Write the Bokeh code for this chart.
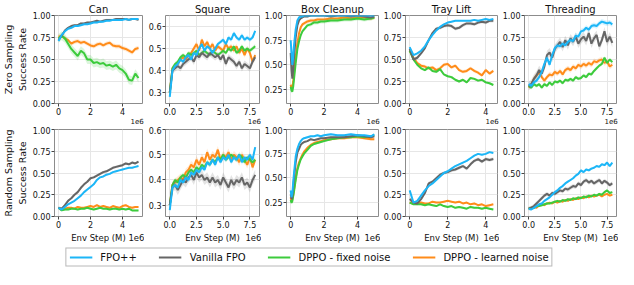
from bokeh.plotting import figure
from bokeh.layouts import column, row
from bokeh.models import (FixedTicker, PrintfTickFormatter, Legend, LegendItem, Range1d,
                          LinearAxis, CustomJSTickFormatter)
from bokeh.embed import file_html
from bokeh.resources import INLINE
import numpy as np

# ---------------- data (x in units of 1e6 env steps) ----------------
X5 = [0, 0.2, 0.4, 0.6, 0.8, 1.0, 1.2, 1.4, 1.6, 1.8, 2.0, 2.2, 2.4, 2.6, 2.8, 3.0,
      3.2, 3.4, 3.6, 3.8, 4.0, 4.2, 4.4, 4.6, 4.8, 5.0]
X8 = [0, 0.25, 0.5, 0.75, 1.0, 1.25, 1.5, 1.75, 2.0, 2.25, 2.5, 2.75, 3.0, 3.25, 3.5, 3.75,
      4.0, 4.25, 4.5, 4.75, 5.0, 5.25, 5.5, 5.75, 6.0, 6.25, 6.5, 6.75, 7.0, 7.25, 7.5, 7.75, 8.0]
XBOX = [0, 0.05, 0.1, 0.15, 0.2, 0.3, 0.4, 0.5, 0.6, 0.7, 0.8, 1.0, 1.2, 1.4, 1.6, 1.8, 2.0,
        2.4, 2.8, 3.2, 3.6, 4.0, 4.4, 4.8, 5.0]
XTRAY = [0, 0.2, 0.4, 0.6, 0.8, 1.0, 1.2, 1.4, 1.6, 1.8, 2.0, 2.2, 2.4, 2.6, 2.8, 3.0, 3.2,
         3.4, 3.6, 3.8, 4.0, 4.2, 4.4]

TASKS = ["Can", "Square", "Box Cleanup", "Tray Lift", "Threading"]
SERIES = ["FPO++", "Vanilla FPO", "DPPO - fixed noise", "DPPO - learned noise"]
ROW_LABELS = ["Zero Sampling\nSuccess Rate", "Random Sampling\nSuccess Rate"]
X_LABEL = "Env Step (M)"
X_OFFSET_TEXT = "1e6"

# Zero sampling row
Z_CAN_FPOPP = [0.71, 0.78, 0.82, 0.85, 0.86, 0.88, 0.88, 0.89, 0.90, 0.90, 0.91, 0.92, 0.92, 0.93, 0.93, 0.94, 0.94, 0.95, 0.95, 0.95, 0.95, 0.96, 0.95, 0.96, 0.96, 0.96]
Z_CAN_VAN = [0.72, 0.77, 0.83, 0.86, 0.88, 0.89, 0.89, 0.91, 0.91, 0.92, 0.92, 0.93, 0.94, 0.93, 0.94, 0.95, 0.95, 0.95, 0.96, 0.96, 0.96, 0.96, 0.95, 0.96, 0.96, 0.95]
Z_CAN_FIX = [0.74, 0.77, 0.74, 0.68, 0.62, 0.58, 0.54, 0.60, 0.57, 0.50, 0.50, 0.46, 0.47, 0.45, 0.46, 0.43, 0.44, 0.42, 0.44, 0.40, 0.38, 0.34, 0.27, 0.26, 0.34, 0.29]
Z_CAN_LRN = [0.76, 0.77, 0.74, 0.72, 0.68, 0.70, 0.71, 0.69, 0.70, 0.68, 0.66, 0.65, 0.67, 0.68, 0.66, 0.68, 0.69, 0.66, 0.65, 0.65, 0.63, 0.62, 0.60, 0.58, 0.62, 0.63]

Z_SQ_FPOPP = [0.28, 0.40, 0.42, 0.43, 0.45, 0.44, 0.46, 0.47, 0.45, 0.48, 0.47, 0.50, 0.52, 0.49, 0.51, 0.50, 0.48, 0.50, 0.52, 0.53, 0.54, 0.52, 0.55, 0.54, 0.57, 0.55, 0.54, 0.56, 0.54, 0.55, 0.54, 0.55, 0.58]
Z_SQ_VAN = [0.30, 0.40, 0.41, 0.42, 0.41, 0.43, 0.44, 0.45, 0.46, 0.44, 0.47, 0.46, 0.48, 0.47, 0.46, 0.48, 0.47, 0.46, 0.47, 0.45, 0.47, 0.43, 0.46, 0.45, 0.44, 0.42, 0.44, 0.41, 0.43, 0.42, 0.41, 0.44, 0.46]
Z_SQ_FIX = [0.30, 0.41, 0.43, 0.44, 0.46, 0.47, 0.46, 0.48, 0.47, 0.48, 0.49, 0.47, 0.48, 0.49, 0.48, 0.47, 0.49, 0.48, 0.47, 0.48, 0.49, 0.48, 0.50, 0.49, 0.51, 0.48, 0.49, 0.51, 0.49, 0.50, 0.49, 0.50, 0.51]
Z_SQ_LRN = [0.30, 0.41, 0.42, 0.43, 0.45, 0.46, 0.45, 0.47, 0.48, 0.50, 0.52, 0.49, 0.54, 0.51, 0.53, 0.50, 0.52, 0.49, 0.51, 0.50, 0.49, 0.52, 0.50, 0.51, 0.49, 0.51, 0.48, 0.50, 0.47, 0.50, 0.48, 0.44, 0.47]

Z_BOX_FPOPP = [0.75, 0.62, 0.50, 0.58, 0.70, 0.86, 0.95, 0.98, 0.99, 0.99, 1.0, 1.0, 1.0, 1.0, 1.0, 1.0, 1.0, 1.0, 1.0, 1.0, 1.0, 1.0, 1.0, 1.0, 1.0]
Z_BOX_VAN = [0.62, 0.45, 0.36, 0.45, 0.58, 0.78, 0.90, 0.95, 0.97, 0.98, 0.99, 0.99, 1.0, 1.0, 1.0, 1.0, 1.0, 0.99, 1.0, 1.0, 0.99, 1.0, 0.99, 0.98, 0.99]
Z_BOX_FIX = [0.28, 0.24, 0.23, 0.28, 0.36, 0.52, 0.66, 0.74, 0.80, 0.84, 0.86, 0.90, 0.91, 0.93, 0.93, 0.94, 0.94, 0.95, 0.95, 0.96, 0.96, 0.97, 0.96, 0.97, 0.98]
Z_BOX_LRN = [0.30, 0.26, 0.27, 0.33, 0.42, 0.58, 0.72, 0.82, 0.88, 0.91, 0.92, 0.94, 0.95, 0.95, 0.96, 0.96, 0.96, 0.97, 0.97, 0.98, 0.97, 0.98, 0.98, 0.97, 0.98]

Z_TRAY_FPOPP = [0.64, 0.55, 0.57, 0.60, 0.65, 0.72, 0.78, 0.83, 0.87, 0.90, 0.92, 0.93, 0.94, 0.94, 0.94, 0.94, 0.94, 0.95, 0.94, 0.95, 0.96, 0.95, 0.96]
Z_TRAY_VAN = [0.62, 0.50, 0.52, 0.57, 0.63, 0.72, 0.80, 0.85, 0.86, 0.88, 0.89, 0.88, 0.85, 0.86, 0.89, 0.91, 0.91, 0.90, 0.92, 0.93, 0.92, 0.94, 0.94]
Z_TRAY_FIX = [0.60, 0.50, 0.44, 0.40, 0.38, 0.41, 0.37, 0.36, 0.39, 0.33, 0.31, 0.30, 0.27, 0.25, 0.27, 0.24, 0.29, 0.28, 0.26, 0.27, 0.24, 0.23, 0.21]
Z_TRAY_LRN = [0.60, 0.52, 0.46, 0.43, 0.42, 0.40, 0.41, 0.38, 0.40, 0.44, 0.45, 0.41, 0.43, 0.38, 0.36, 0.37, 0.40, 0.37, 0.35, 0.32, 0.38, 0.34, 0.37]

Z_THR_FPOPP = [0.22, 0.20, 0.24, 0.26, 0.30, 0.36, 0.45, 0.52, 0.44, 0.55, 0.63, 0.66, 0.65, 0.68, 0.66, 0.70, 0.72, 0.71, 0.77, 0.76, 0.82, 0.83, 0.86, 0.84, 0.88, 0.89, 0.88, 0.91, 0.93, 0.92, 0.91, 0.92, 0.90]
Z_THR_VAN = [0.20, 0.22, 0.28, 0.32, 0.38, 0.34, 0.42, 0.55, 0.58, 0.52, 0.62, 0.66, 0.70, 0.64, 0.72, 0.66, 0.74, 0.70, 0.76, 0.68, 0.73, 0.76, 0.71, 0.80, 0.68, 0.74, 0.78, 0.65, 0.72, 0.82, 0.70, 0.76, 0.69]
Z_THR_FIX = [0.20, 0.18, 0.22, 0.20, 0.22, 0.18, 0.22, 0.20, 0.24, 0.21, 0.25, 0.24, 0.26, 0.23, 0.27, 0.26, 0.28, 0.26, 0.30, 0.28, 0.29, 0.32, 0.30, 0.34, 0.33, 0.37, 0.40, 0.43, 0.45, 0.52, 0.46, 0.50, 0.47]
Z_THR_LRN = [0.18, 0.22, 0.28, 0.32, 0.35, 0.30, 0.26, 0.30, 0.33, 0.32, 0.36, 0.34, 0.37, 0.33, 0.38, 0.40, 0.38, 0.42, 0.40, 0.44, 0.42, 0.45, 0.43, 0.46, 0.44, 0.48, 0.47, 0.49, 0.50, 0.46, 0.48, 0.42, 0.44]

# Random sampling row
R_CAN_FPOPP = [0.10, 0.08, 0.11, 0.14, 0.16, 0.18, 0.21, 0.24, 0.28, 0.31, 0.34, 0.37, 0.42, 0.45, 0.46, 0.48, 0.49, 0.51, 0.52, 0.53, 0.54, 0.55, 0.56, 0.56, 0.57, 0.58]
R_CAN_VAN = [0.10, 0.09, 0.13, 0.18, 0.21, 0.25, 0.28, 0.33, 0.37, 0.40, 0.44, 0.45, 0.47, 0.49, 0.51, 0.52, 0.54, 0.56, 0.57, 0.58, 0.59, 0.61, 0.60, 0.62, 0.61, 0.63]
R_CAN_FIX = [0.10, 0.07, 0.08, 0.08, 0.09, 0.09, 0.08, 0.09, 0.09, 0.10, 0.09, 0.08, 0.09, 0.10, 0.09, 0.09, 0.08, 0.09, 0.09, 0.08, 0.09, 0.08, 0.09, 0.07, 0.07, 0.07]
R_CAN_LRN = [0.10, 0.08, 0.09, 0.10, 0.10, 0.09, 0.11, 0.10, 0.10, 0.11, 0.12, 0.11, 0.13, 0.11, 0.12, 0.11, 0.10, 0.12, 0.11, 0.10, 0.12, 0.13, 0.11, 0.10, 0.11, 0.11]

R_SQ_FPOPP = [0.28, 0.37, 0.38, 0.37, 0.40, 0.39, 0.41, 0.40, 0.43, 0.42, 0.44, 0.43, 0.45, 0.44, 0.47, 0.46, 0.48, 0.46, 0.49, 0.47, 0.49, 0.48, 0.50, 0.47, 0.49, 0.48, 0.50, 0.47, 0.49, 0.48, 0.50, 0.48, 0.53]
R_SQ_VAN = [0.30, 0.37, 0.38, 0.36, 0.38, 0.40, 0.39, 0.41, 0.42, 0.40, 0.43, 0.41, 0.42, 0.40, 0.41, 0.39, 0.41, 0.39, 0.40, 0.38, 0.41, 0.39, 0.37, 0.40, 0.38, 0.40, 0.39, 0.41, 0.38, 0.39, 0.37, 0.40, 0.42]
R_SQ_FIX = [0.30, 0.38, 0.40, 0.39, 0.41, 0.42, 0.41, 0.43, 0.44, 0.43, 0.45, 0.44, 0.46, 0.45, 0.47, 0.46, 0.48, 0.47, 0.49, 0.48, 0.50, 0.48, 0.49, 0.50, 0.49, 0.48, 0.50, 0.49, 0.47, 0.49, 0.48, 0.47, 0.48]
R_SQ_LRN = [0.30, 0.38, 0.39, 0.40, 0.41, 0.40, 0.43, 0.44, 0.46, 0.45, 0.48, 0.46, 0.49, 0.47, 0.51, 0.48, 0.50, 0.49, 0.52, 0.48, 0.50, 0.49, 0.51, 0.48, 0.50, 0.49, 0.47, 0.50, 0.48, 0.46, 0.49, 0.45, 0.48]

R_BOX_FPOPP = [0.37, 0.30, 0.34, 0.45, 0.55, 0.72, 0.80, 0.85, 0.88, 0.90, 0.91, 0.92, 0.93, 0.93, 0.94, 0.93, 0.94, 0.95, 0.94, 0.94, 0.95, 0.94, 0.94, 0.93, 0.95]
R_BOX_VAN = [0.33, 0.28, 0.30, 0.40, 0.50, 0.66, 0.76, 0.80, 0.84, 0.86, 0.87, 0.88, 0.90, 0.89, 0.90, 0.91, 0.91, 0.92, 0.92, 0.92, 0.93, 0.94, 0.93, 0.92, 0.93]
R_BOX_FIX = [0.27, 0.24, 0.26, 0.31, 0.36, 0.48, 0.58, 0.64, 0.69, 0.72, 0.75, 0.79, 0.83, 0.85, 0.86, 0.87, 0.88, 0.90, 0.91, 0.92, 0.92, 0.93, 0.92, 0.93, 0.94]
R_BOX_LRN = [0.30, 0.26, 0.28, 0.32, 0.38, 0.50, 0.60, 0.66, 0.70, 0.74, 0.77, 0.81, 0.84, 0.86, 0.87, 0.88, 0.89, 0.90, 0.91, 0.91, 0.92, 0.92, 0.91, 0.90, 0.90]

R_TRAY_FPOPP = [0.30, 0.16, 0.18, 0.24, 0.30, 0.35, 0.38, 0.42, 0.46, 0.50, 0.52, 0.55, 0.58, 0.60, 0.62, 0.64, 0.67, 0.70, 0.72, 0.71, 0.72, 0.74, 0.73]
R_TRAY_VAN = [0.20, 0.16, 0.15, 0.20, 0.27, 0.38, 0.40, 0.44, 0.48, 0.50, 0.51, 0.53, 0.54, 0.56, 0.58, 0.55, 0.60, 0.64, 0.66, 0.63, 0.66, 0.65, 0.66]
R_TRAY_FIX = [0.16, 0.14, 0.14, 0.14, 0.13, 0.14, 0.13, 0.12, 0.14, 0.12, 0.11, 0.12, 0.10, 0.11, 0.10, 0.09, 0.11, 0.10, 0.10, 0.09, 0.10, 0.09, 0.08]
R_TRAY_LRN = [0.16, 0.15, 0.15, 0.16, 0.15, 0.15, 0.17, 0.16, 0.16, 0.17, 0.18, 0.17, 0.16, 0.17, 0.15, 0.16, 0.14, 0.15, 0.13, 0.14, 0.12, 0.13, 0.14]

R_THR_FPOPP = [0.09, 0.08, 0.10, 0.12, 0.14, 0.15, 0.18, 0.20, 0.22, 0.25, 0.28, 0.30, 0.33, 0.35, 0.38, 0.40, 0.42, 0.44, 0.47, 0.49, 0.53, 0.51, 0.54, 0.53, 0.55, 0.56, 0.58, 0.57, 0.60, 0.59, 0.62, 0.58, 0.62]
R_THR_VAN = [0.09, 0.10, 0.12, 0.15, 0.18, 0.21, 0.24, 0.26, 0.24, 0.27, 0.26, 0.28, 0.30, 0.29, 0.32, 0.31, 0.33, 0.35, 0.34, 0.38, 0.36, 0.40, 0.42, 0.39, 0.41, 0.38, 0.40, 0.42, 0.38, 0.41, 0.39, 0.36, 0.38]
R_THR_FIX = [0.09, 0.10, 0.10, 0.12, 0.12, 0.13, 0.14, 0.15, 0.15, 0.16, 0.17, 0.18, 0.17, 0.19, 0.18, 0.20, 0.19, 0.21, 0.20, 0.22, 0.21, 0.23, 0.22, 0.24, 0.23, 0.25, 0.24, 0.26, 0.25, 0.28, 0.30, 0.27, 0.28]
R_THR_LRN = [0.09, 0.10, 0.11, 0.10, 0.13, 0.14, 0.13, 0.15, 0.16, 0.15, 0.17, 0.16, 0.18, 0.17, 0.19, 0.18, 0.20, 0.19, 0.21, 0.20, 0.22, 0.21, 0.23, 0.22, 0.24, 0.23, 0.24, 0.25, 0.23, 0.25, 0.26, 0.24, 0.25]

# band half-widths (FPO++, Vanilla, fixed, learned)
Z_SPREAD = [[0.012, 0.012, 0.05, 0.025], [0.01, 0.015, 0.01, 0.012], [0.01, 0.01, 0.02, 0.02],
            [0.01, 0.02, 0.015, 0.02], [0.03, 0.05, 0.02, 0.03]]
R_SPREAD = [[0.01, 0.015, 0.01, 0.01], [0.01, 0.02, 0.01, 0.015], [0.01, 0.01, 0.01, 0.015],
            [0.01, 0.02, 0.01, 0.01], [0.015, 0.025, 0.015, 0.01]]

Z_ROW = [
    (X5, [Z_CAN_FPOPP, Z_CAN_VAN, Z_CAN_FIX, Z_CAN_LRN]),
    (X8, [Z_SQ_FPOPP, Z_SQ_VAN, Z_SQ_FIX, Z_SQ_LRN]),
    (XBOX, [Z_BOX_FPOPP, Z_BOX_VAN, Z_BOX_FIX, Z_BOX_LRN]),
    (XTRAY, [Z_TRAY_FPOPP, Z_TRAY_VAN, Z_TRAY_FIX, Z_TRAY_LRN]),
    (X8, [Z_THR_FPOPP, Z_THR_VAN, Z_THR_FIX, Z_THR_LRN]),
]
R_ROW = [
    (X5, [R_CAN_FPOPP, R_CAN_VAN, R_CAN_FIX, R_CAN_LRN]),
    (X8, [R_SQ_FPOPP, R_SQ_VAN, R_SQ_FIX, R_SQ_LRN]),
    (XBOX, [R_BOX_FPOPP, R_BOX_VAN, R_BOX_FIX, R_BOX_LRN]),
    (XTRAY, [R_TRAY_FPOPP, R_TRAY_VAN, R_TRAY_FIX, R_TRAY_LRN]),
    (X8, [R_THR_FPOPP, R_THR_VAN, R_THR_FIX, R_THR_LRN]),
]

X_RANGES = [(-0.25, 5.25), (-0.4, 8.4), (-0.25, 5.25), (-0.22, 4.62), (-0.4, 8.4)]
X_TICKS = [[0, 2, 4], [0, 2.5, 5, 7.5], [0, 2, 4], [0, 2, 4], [0, 2.5, 5, 7.5]]
X_FMT = ["%d", "%.1f", "%d", "%d", "%.1f"]
Z_YR = [(0, 1), (0.25, 0.65), (0.11, 1.0), (0, 1), (0, 1)]
R_YR = [(0, 1), (0.255, 0.6), (0.10, 1.0), (0, 1), (0, 1)]
Z_YT = [[0, 0.25, 0.5, 0.75, 1.0], [0.3, 0.4, 0.5, 0.6], [0.25, 0.5, 0.75, 1.0], [0, 0.25, 0.5, 0.75, 1.0], [0, 0.25, 0.5, 0.75, 1.0]]
R_YT = [[0, 0.25, 0.5, 0.75, 1.0], [0.3, 0.4, 0.5, 0.6], [0.25, 0.5, 0.75, 1.0], [0, 0.25, 0.5, 0.75, 1.0], [0, 0.25, 0.5, 0.75, 1.0]]
Y_FMT = ["%.2f", "%.1f", "%.2f", "%.2f", "%.2f"]

COLORS = ["#1cb6f7", "#666666", "#3ccb3c", "#ff8c1a"]
FONT = "DejaVu Sans"

# layout (page px)
LEFT = [48, 21, 23, 23, 23]
FRAME_W = 94
RIGHT = [2, 2, 2, 2, 2]


def style_axis(ax, size):
    ax.axis_line_color = None
    ax.major_tick_line_color = "#444444"
    ax.major_tick_out = 3
    ax.major_tick_in = 0
    ax.minor_tick_line_color = None
    ax.major_label_text_font = FONT
    ax.major_label_text_font_size = size
    ax.major_label_text_color = "#111111"
    ax.major_label_standoff = 1
    ax.axis_label_text_font = FONT
    ax.axis_label_text_font_style = "normal"
    ax.axis_label_text_font_size = "9.5px"
    ax.axis_label_text_color = "#111111"
    ax.axis_label_standoff = 2


def make_panel(ci, xs, ys_list, spreads, yr, yt, top_row):
    w = LEFT[ci] + FRAME_W + RIGHT[ci]
    h = 126 if top_row else 119
    x0, x1 = X_RANGES[ci]
    p = figure(width=w, height=h, toolbar_location=None, output_backend="svg",
               x_range=Range1d(x0, x1), y_range=Range1d(*yr))
    p.min_border_left = LEFT[ci]
    p.min_border_right = RIGHT[ci]
    p.min_border_top = 14 if top_row else 3
    p.min_border_bottom = 20 if top_row else 22
    if top_row:
        p.title.text = TASKS[ci]
        p.title.align = "center"
        p.title.text_font = FONT
        p.title.text_font_style = "normal"
        p.title.text_font_size = "10px"
        p.title.text_color = "#111111"
        p.title.standoff = 2
        p.title.offset = 0
    p.outline_line_color = "#8c8c8c"
    p.outline_line_width = 1
    p.grid.grid_line_color = "#e6e6e6"
    p.grid.grid_line_width = 1
    p.xaxis.ticker = FixedTicker(ticks=X_TICKS[ci])
    p.yaxis.ticker = FixedTicker(ticks=yt)
    p.xaxis.formatter = PrintfTickFormatter(format=X_FMT[ci])
    p.yaxis.formatter = PrintfTickFormatter(format=Y_FMT[ci])
    style_axis(p.xaxis[0], "8px")
    style_axis(p.yaxis[0], "8px")
    if ci == 0:
        p.yaxis.axis_label = ROW_LABELS[0 if top_row else 1]

    # second text line below the tick labels: offset text (and x label on the bottom row)
    span = x1 - x0
    off_pos = x1 - span * 4.0 / FRAME_W
    mid = (x0 + x1) / 2.0
    if top_row:
        ticks = [off_pos]
        code = "return %r;" % X_OFFSET_TEXT
        size = "7px"
    else:
        ticks = [mid, off_pos]
        code = "return index == 0 ? %r : %r;" % (X_LABEL, X_OFFSET_TEXT)
        size = "8.5px"
    ax2 = LinearAxis(ticker=FixedTicker(ticks=ticks), formatter=CustomJSTickFormatter(code=code))
    style_axis(ax2, size)
    ax2.major_tick_line_color = None
    ax2.major_tick_out = 0
    ax2.major_label_standoff = 0 if top_row else 2
    p.add_layout(ax2, "below")

    x = np.array(xs, dtype=float)
    for si in [3, 2, 1, 0]:
        y = np.array(ys_list[si], dtype=float)
        s = spreads[si]
        p.varea(x=x, y1=y - s, y2=y + s, fill_color=COLORS[si], fill_alpha=0.18)
        p.line(x=x, y=y, line_color=COLORS[si], line_width=2)
    return p


top = [make_panel(i, Z_ROW[i][0], Z_ROW[i][1], Z_SPREAD[i], Z_YR[i], Z_YT[i], True) for i in range(5)]
bot = [make_panel(i, R_ROW[i][0], R_ROW[i][1], R_SPREAD[i], R_YR[i], R_YT[i], False) for i in range(5)]

# legend strip: the series are drawn outside the visible range so only the legend shows
lf = figure(width=618, height=24, toolbar_location=None, output_backend="svg",
            x_axis_type=None, y_axis_type=None, min_border=0,
            x_range=Range1d(100, 101), y_range=Range1d(100, 101))
lf.outline_line_color = None
lf.grid.visible = False
items = []
for si, name in enumerate(SERIES):
    r = lf.line(x=Z_ROW[0][0], y=Z_ROW[0][1][si], line_color=COLORS[si], line_width=2)
    items.append(LegendItem(label=name, renderers=[r]))
leg = Legend(items=items, orientation="horizontal", location="center",
             label_text_font=FONT, label_text_font_size="10px", label_text_color="#111111",
             glyph_width=23, glyph_height=9, label_standoff=8, spacing=22,
             padding=3, margin=0, border_line_color="#b8b8b8", border_line_width=1,
             border_line_alpha=1.0, background_fill_color="white",
             background_fill_alpha=1.0, label_height=11)
lf.add_layout(leg, "center")

layout = column(row(*top), row(*bot), lf)
open("out.html", "w").write(file_html(layout, INLINE))
